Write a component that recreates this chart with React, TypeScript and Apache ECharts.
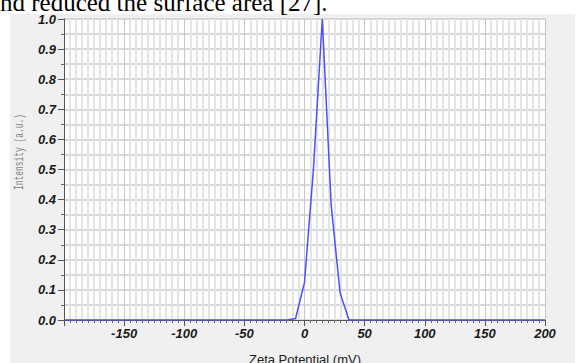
import React, { useEffect, useRef } from "react";
import * as echarts from "echarts";

const zeta = [-200, -14.8, -7.4, 0, 7.4, 14.8, 22.2, 29.6, 37, 200];
const intensity = [0, 0, 0.005, 0.125, 0.5, 1.0, 0.38, 0.09, 0, 0];
const hiddenXLabels = [-200];
const captionText = "nd reduced the surface area [27].";
const xTitle = "Zeta Potential (mV)";
const yTitle = "Intensity (a.u.)";

export default function App() {
  const ref = useRef<HTMLDivElement>(null);
  useEffect(() => {
    if (!ref.current) return;
    const chart = echarts.init(ref.current, undefined, { renderer: "svg" });
    const labelFont = {
      fontFamily: "Liberation Sans, Arial, sans-serif",
      fontSize: 13,
      fontWeight: "bold" as const,
      fontStyle: "italic" as const,
      color: "#1a1a1a",
    };
    chart.setOption({
      animation: false,
      backgroundColor: "#ffffff",
      graphic: [
        {
          type: "rect",
          z: -10,
          silent: true,
          shape: { x: 10, y: 14, width: 565, height: 352 },
          style: { fill: "#f0f0f0" },
        },
        {
          type: "text",
          x: 0,
          y: 2,
          style: {
            text: captionText,
            font: "25px 'Liberation Serif', 'Times New Roman', serif",
            fill: "#000",
            textAlign: "left",
            textVerticalAlign: "middle",
          },
        },
        {
          type: "text",
          x: 20,
          y: 152,
          rotation: Math.PI / 2,
          scaleX: 0.66,
          style: {
            text: yTitle,
            font: "12px 'Liberation Mono', 'DejaVu Sans Mono', monospace",
            fill: "#808080",
            textAlign: "center",
            textVerticalAlign: "middle",
          },
        },
        {
          type: "text",
          x: 305,
          y: 353,
          style: {
            text: xTitle,
            font: "13px 'Liberation Sans', Arial, sans-serif",
            fill: "#222",
            textAlign: "center",
            textVerticalAlign: "top",
          },
        },
      ],
      grid: {
        left: 64,
        right: 40,
        top: 19,
        bottom: 43,
        show: true,
        backgroundColor: "#ffffff",
        borderWidth: 0,
      },
      xAxis: {
        type: "value",
        min: -200,
        max: 200,
        interval: 50,
        axisLine: { show: true, onZero: false, lineStyle: { color: "#555", width: 1 } },
        axisTick: { show: true, length: 6, lineStyle: { color: "#555" } },
        minorTick: { show: true, splitNumber: 10, length: 3, lineStyle: { color: "#666" } },
        axisLabel: {
          ...labelFont,
          margin: 7,
          formatter: (v: number) => (hiddenXLabels.includes(v) ? "" : String(v)),
        },
        splitLine: { show: true, lineStyle: { color: "#c6c6c6", width: 1 } },
        minorSplitLine: { show: true, lineStyle: { color: "#e4e4e4", width: 2 } },
      },
      yAxis: {
        type: "value",
        min: 0,
        max: 1,
        interval: 0.1,
        axisLine: { show: true, onZero: false, lineStyle: { color: "#555", width: 1 } },
        axisTick: { show: true, length: 6, lineStyle: { color: "#555" } },
        minorTick: { show: true, splitNumber: 2, length: 3, lineStyle: { color: "#666" } },
        axisLabel: {
          ...labelFont,
          margin: 8,
          formatter: (v: number) => v.toFixed(1),
        },
        splitLine: { show: true, lineStyle: { color: "#cbcbcb", width: 1.5 } },
        minorSplitLine: { show: true, lineStyle: { color: "#cbcbcb", width: 1.5 } },
      },
      series: [
        {
          type: "line",
          data: zeta.map((x, i) => [x, intensity[i]]),
          symbol: "none",
          z: 5,
          lineStyle: { color: "#4d4dff", width: 1.5 },
        },
      ],
    });
    return () => chart.dispose();
  }, []);
  return (
    <div
      ref={ref}
      style={{ position: "fixed", left: 0, top: 0, width: 585, height: 363 }}
    />
  );
}
